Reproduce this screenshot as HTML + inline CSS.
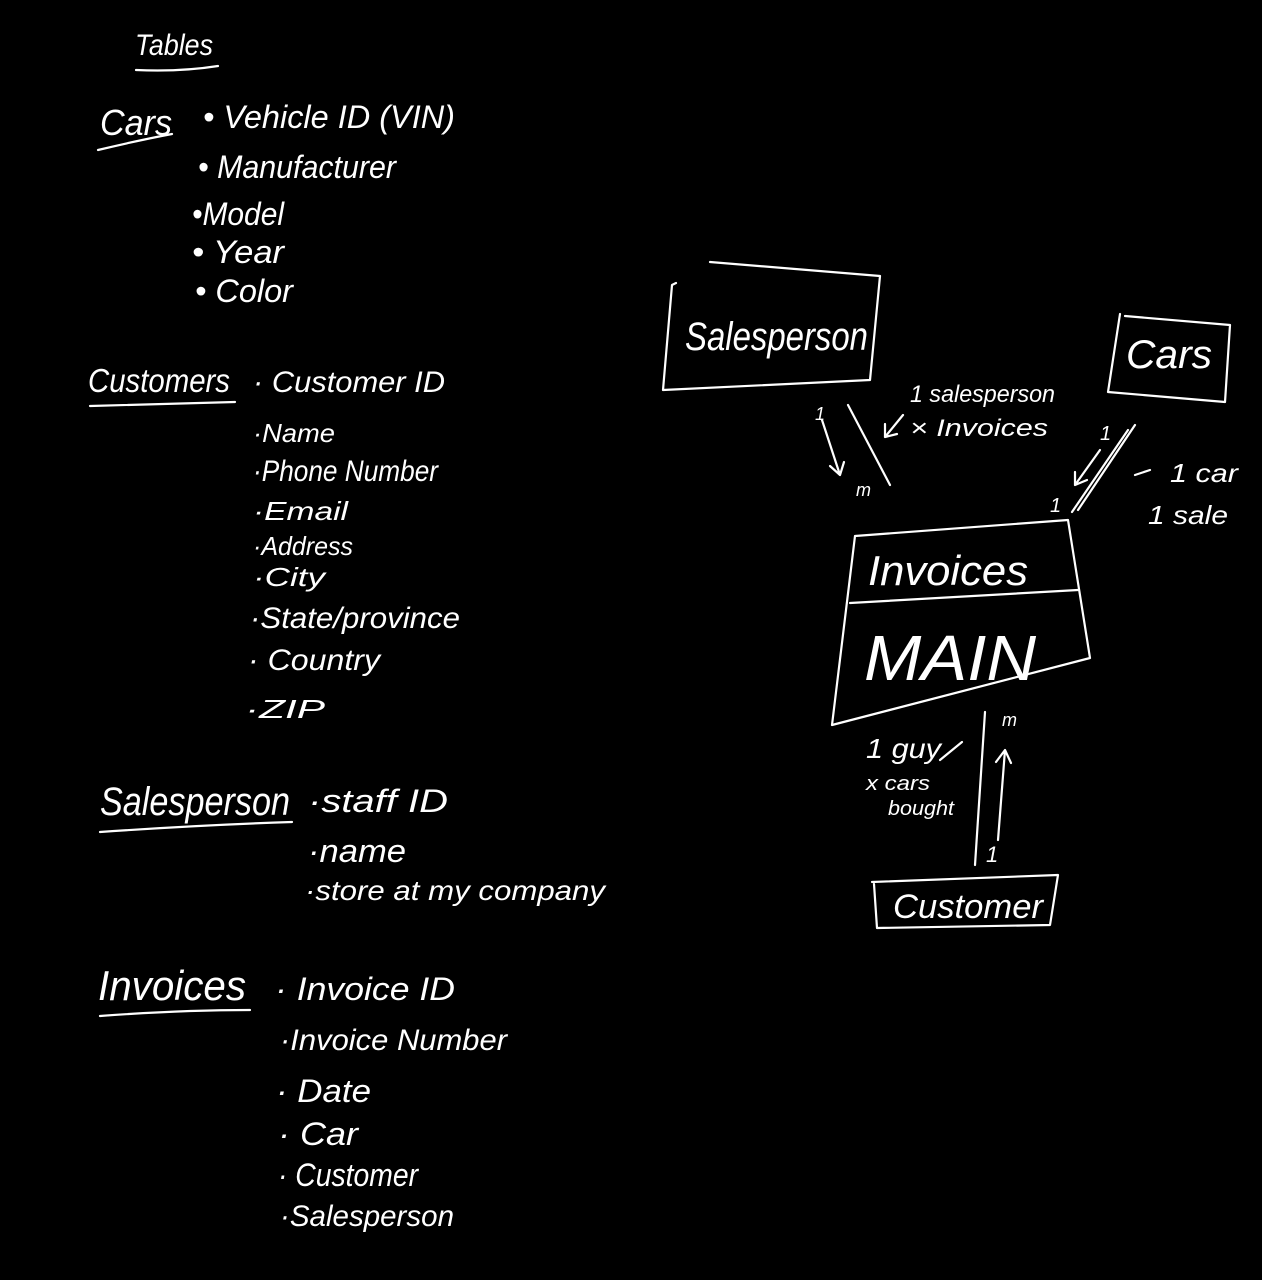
<!DOCTYPE html>
<html><head><meta charset="utf-8"><style>
html,body{margin:0;padding:0;background:#000;}
svg{display:block}
text{fill:#fff;font-family:"Liberation Sans",sans-serif;font-style:italic;}
.s{stroke:#fff;fill:none;stroke-width:2.2;stroke-linecap:round;stroke-linejoin:round}
</style></head><body>
<svg width="1262" height="1280" viewBox="0 0 1262 1280" xmlns="http://www.w3.org/2000/svg">
<rect width="1262" height="1280" fill="#000"/>
<text x="135" y="55" font-size="30" textLength="78" lengthAdjust="spacingAndGlyphs">Tables</text>
<path class="s" d="M136 70 Q180 72 218 66"/>
<text x="100" y="135" font-size="36" textLength="72" lengthAdjust="spacingAndGlyphs">Cars</text>
<path class="s" d="M98 150 Q140 140 172 134"/>
<text x="203" y="128" font-size="32" textLength="252" lengthAdjust="spacingAndGlyphs">• Vehicle ID (VIN)</text>
<text x="198" y="178" font-size="32" textLength="198" lengthAdjust="spacingAndGlyphs">• Manufacturer</text>
<text x="192" y="225" font-size="32" textLength="92" lengthAdjust="spacingAndGlyphs">•Model</text>
<text x="192" y="263" font-size="32" textLength="92" lengthAdjust="spacingAndGlyphs">• Year</text>
<text x="195" y="302" font-size="32" textLength="98" lengthAdjust="spacingAndGlyphs">• Color</text>
<text x="88" y="392" font-size="33" textLength="142" lengthAdjust="spacingAndGlyphs">Customers</text>
<path class="s" d="M90 406 Q160 404 235 402"/>
<text x="253" y="392" font-size="30" textLength="192" lengthAdjust="spacingAndGlyphs">· Customer ID</text>
<text x="253" y="442" font-size="26" textLength="82" lengthAdjust="spacingAndGlyphs">·Name</text>
<text x="253" y="481" font-size="30" textLength="185" lengthAdjust="spacingAndGlyphs">·Phone Number</text>
<text x="253" y="520" font-size="26" textLength="95" lengthAdjust="spacingAndGlyphs">·Email</text>
<text x="253" y="555" font-size="26" textLength="100" lengthAdjust="spacingAndGlyphs">·Address</text>
<text x="253" y="586" font-size="26" textLength="72" lengthAdjust="spacingAndGlyphs">·City</text>
<text x="250" y="628" font-size="30" textLength="210" lengthAdjust="spacingAndGlyphs">·State/province</text>
<text x="248" y="670" font-size="30" textLength="132" lengthAdjust="spacingAndGlyphs">· Country</text>
<text x="245" y="718" font-size="26" textLength="80" lengthAdjust="spacingAndGlyphs">·ZIP</text>
<text x="100" y="815" font-size="40" textLength="190" lengthAdjust="spacingAndGlyphs">Salesperson</text>
<path class="s" d="M100 832 Q200 825 292 822"/>
<text x="308" y="812" font-size="32" textLength="140" lengthAdjust="spacingAndGlyphs">·staff ID</text>
<text x="308" y="862" font-size="32" textLength="98" lengthAdjust="spacingAndGlyphs">·name</text>
<text x="305" y="900" font-size="28" textLength="300" lengthAdjust="spacingAndGlyphs">·store at my company</text>
<text x="98" y="1000" font-size="42" textLength="148" lengthAdjust="spacingAndGlyphs">Invoices</text>
<path class="s" d="M100 1016 Q180 1010 250 1010"/>
<text x="275" y="1000" font-size="32" textLength="180" lengthAdjust="spacingAndGlyphs">· Invoice ID</text>
<text x="280" y="1050" font-size="30" textLength="227" lengthAdjust="spacingAndGlyphs">·Invoice Number</text>
<text x="276" y="1102" font-size="32" textLength="95" lengthAdjust="spacingAndGlyphs">· Date</text>
<text x="278" y="1145" font-size="32" textLength="80" lengthAdjust="spacingAndGlyphs">· Car</text>
<text x="278" y="1186" font-size="32" textLength="140" lengthAdjust="spacingAndGlyphs">· Customer</text>
<text x="280" y="1226" font-size="30" textLength="174" lengthAdjust="spacingAndGlyphs">·Salesperson</text>
<path class="s" d="M676 283 L672 285 L663 390 L870 380 L880 276 L710 262"/>
<text x="685" y="350" font-size="40" textLength="183" lengthAdjust="spacingAndGlyphs">Salesperson</text>
<path class="s" d="M1120 314 L1108 392 L1225 402 L1230 325 L1125 316"/>
<text x="1126" y="368" font-size="40" textLength="86" lengthAdjust="spacingAndGlyphs">Cars</text>
<path class="s" d="M855 536 L832 725 L1090 658 L1068 520 L855 536"/>
<path class="s" d="M850 603 L1078 590"/>
<text x="868" y="585" font-size="42" textLength="160" lengthAdjust="spacingAndGlyphs">Invoices</text>
<text x="864" y="680" font-size="64" textLength="172" lengthAdjust="spacingAndGlyphs">MAIN</text>
<path class="s" d="M874 884 L877 928 L1050 925 L1058 875 L872 882"/>
<text x="893" y="918" font-size="34" textLength="150" lengthAdjust="spacingAndGlyphs">Customer</text>
<path class="s" d="M848 405 L890 485"/>
<path class="s" d="M822 420 L840 475 M830 466 L840 475 L844 462"/>
<text x="815" y="420" font-size="18">1</text>
<text x="856" y="496" font-size="18">m</text>
<path class="s" d="M903 415 L885 437 M885 424 L885 437 L897 434"/>
<text x="910" y="402" font-size="24" textLength="145" lengthAdjust="spacingAndGlyphs">1 salesperson</text>
<text x="910" y="436" font-size="24" textLength="138" lengthAdjust="spacingAndGlyphs">× Invoices</text>
<path class="s" d="M1135 425 L1078 510 M1128 430 L1072 512"/>
<path class="s" d="M1100 450 L1075 485 M1075 472 L1075 485 L1087 480"/>
<text x="1100" y="440" font-size="20">1</text>
<text x="1050" y="512" font-size="20">1</text>
<path class="s" d="M1150 470 L1135 475"/>
<text x="1170" y="482" font-size="26" textLength="68" lengthAdjust="spacingAndGlyphs">1 car</text>
<text x="1148" y="524" font-size="26" textLength="80" lengthAdjust="spacingAndGlyphs">1 sale</text>
<path class="s" d="M985 712 L975 865"/>
<path class="s" d="M998 840 L1005 750 M996 762 L1005 750 L1011 763"/>
<text x="1002" y="726" font-size="18">m</text>
<text x="986" y="862" font-size="22">1</text>
<text x="866" y="758" font-size="28" textLength="75" lengthAdjust="spacingAndGlyphs">1 guy</text>
<path class="s" d="M940 760 L962 742"/>
<text x="866" y="790" font-size="20" textLength="64" lengthAdjust="spacingAndGlyphs">x cars</text>
<text x="888" y="815" font-size="20" textLength="66" lengthAdjust="spacingAndGlyphs">bought</text>
</svg>
</body></html>
